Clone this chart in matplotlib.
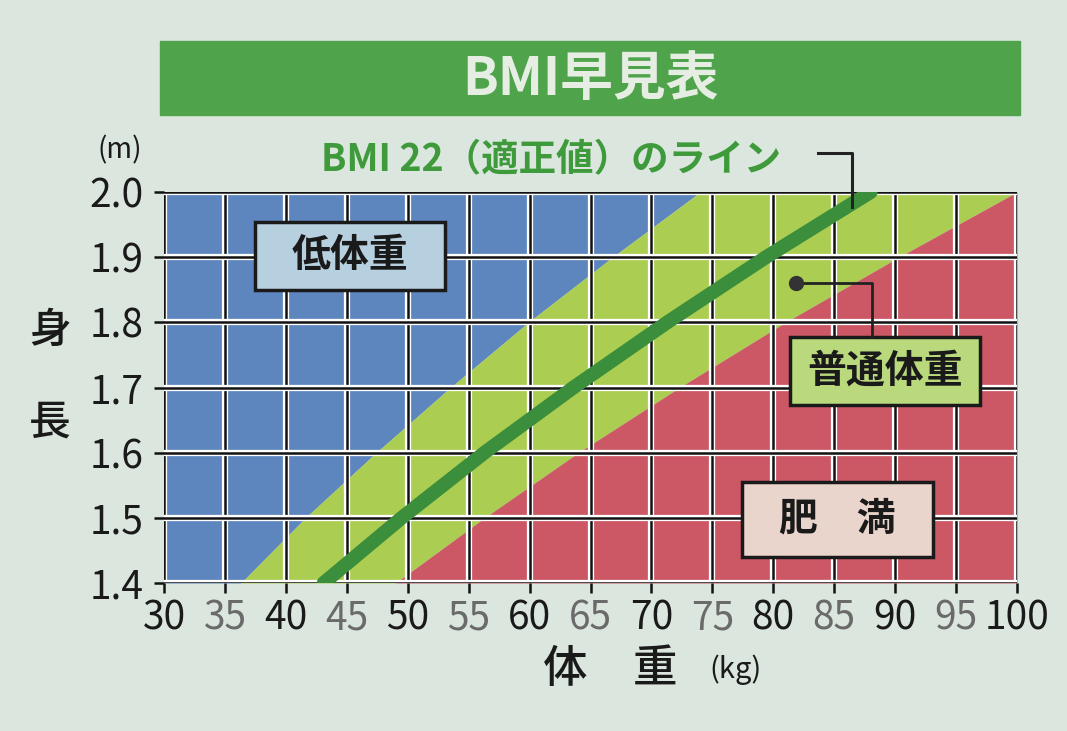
import numpy as np
from matplotlib import pyplot as plt
from matplotlib.patches import Rectangle
import matplotlib.patheffects as pe

plt.rcParams['font.family'] = ['Noto Sans CJK JP', 'DejaVu Sans']

# heights (m) and boundary weights (kg)
heights = [1.4, 1.5, 1.6, 1.7, 1.8, 1.9, 2.0]
w_under = [36.3, 41.6, 47.4, 53.5, 59.9, 66.8, 74.0]    # BMI 18.5 edge
w_over = [49.0, 56.3, 64.0, 72.3, 81.0, 90.3, 100.0]    # BMI 25 edge
w_bmi22 = [43.1, 49.5, 56.3, 63.6, 71.3, 79.4, 88.0]    # BMI 22 line
x_ticks = list(range(30, 101, 5))
y_ticks = [1.4, 1.5, 1.6, 1.7, 1.8, 1.9, 2.0]

W, H = 1067, 731
def fx(p): return p / W
def fy(p): return 1 - p / H

fig = plt.figure(figsize=(10.67, 7.31), dpi=100, facecolor='#dbe6de')

# title bar
fig.add_artist(Rectangle((fx(160), fy(115)), (1020 - 160) / W, 74 / H,
                         transform=fig.transFigure, color='#4fa34b', zorder=0))
fig.text(fx(590), fy(80), 'BMI早見表', ha='center', va='center', fontsize=38,
         fontweight='bold', color='#e6eee4')
fig.text(fx(551), fy(160), 'BMI 22（適正値）のライン', ha='center', va='center',
         fontsize=27, fontweight='bold', color='#3f9a3c')

ax = fig.add_axes([fx(164), fy(583), (1017 - 164) / W, (583 - 192) / H])
ax.set_facecolor('none')
ax.set_xlim(30, 100)
ax.set_ylim(1.4, 2.0)

ax.fill_betweenx(heights, 30, w_under, color='#5d86bf', lw=0, zorder=1)
ax.fill_betweenx(heights, w_under, w_over, color='#abcd52', lw=0, zorder=1)
ax.fill_betweenx(heights, w_over, 100, color='#cc5866', lw=0, zorder=1)

halo = [pe.Stroke(linewidth=4.5, foreground='white'), pe.Normal()]
for x in x_ticks:
    ax.axvline(x, color='#111111', lw=1.8, zorder=2, path_effects=halo)
for y in y_ticks:
    ax.axhline(y, color='#111111', lw=1.8, zorder=2, path_effects=halo)
for s in ax.spines.values():
    s.set_visible(False)

ax.plot(w_bmi22, heights, color='#3b8e3b', lw=10, solid_capstyle='round', zorder=5)

ax.set_xticks(x_ticks)
ax.set_yticks(y_ticks)
ax.set_yticklabels(['%.1f' % v for v in y_ticks])
ax.tick_params(direction='out', length=7, width=1.8, color='#111111',
               labelsize=28, labelcolor='#1a1a1a')
ax.tick_params(axis='x', pad=4)
ax.tick_params(axis='y', pad=8)
for lab, v in zip(ax.get_xticklabels(), x_ticks):
    if v % 10:
        lab.set_color('#6a6a6a')

# label boxes
boxes = [((37.5, 1.850), 15.6, 0.104, '#b7d0e0', '低体重'),
         ((81.4, 1.673), 15.6, 0.104, '#b9d97c', '普通体重'),
         ((77.4, 1.440), 15.7, 0.115, '#ead5cd', '肥　満')]
for (x0, y0), bw, bh, fc, txt in boxes:
    ax.add_patch(Rectangle((x0, y0), bw, bh, fc=fc, ec='#1a1a1a', lw=2.5, zorder=6))
    ax.text(x0 + bw / 2, y0 + bh / 2, txt, ha='center', va='center', fontsize=28,
            fontweight='bold', color='#1a1a1a', zorder=7)

# pointers
ax.plot([81.9, 88.1, 88.1], [1.86, 1.86, 1.777], color='#222222', lw=2, zorder=6)
ax.plot([81.9], [1.86], 'o', color='#333333', ms=10, zorder=7)
ax.plot([83.7, 86.5, 86.5], [2.06, 2.06, 1.977], color='#222222', lw=2.2,
        zorder=6, clip_on=False)

# axis titles
fig.text(fx(50), fy(330), '身', ha='center', va='center', fontsize=30,
         fontweight='medium', color='#1a1a1a')
fig.text(fx(50), fy(422), '長', ha='center', va='center', fontsize=30,
         fontweight='medium', color='#1a1a1a')
fig.text(fx(120), fy(150), '(m)', ha='center', va='center', fontsize=20, color='#1a1a1a')
fig.text(fx(565), fy(670), '体', ha='center', va='center', fontsize=32,
         fontweight='medium', color='#1a1a1a')
fig.text(fx(655), fy(670), '重', ha='center', va='center', fontsize=32,
         fontweight='medium', color='#1a1a1a')
fig.text(fx(735), fy(670), '(kg)', ha='center', va='center', fontsize=21, color='#1a1a1a')

fig.savefig('out.png', dpi=100, facecolor=fig.get_facecolor())
